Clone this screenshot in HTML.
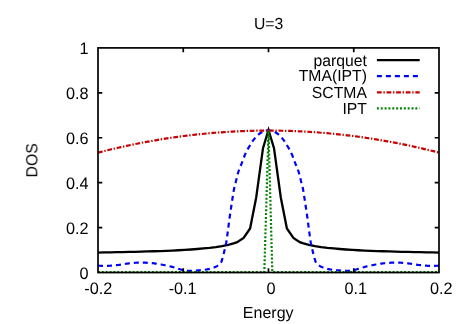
<!DOCTYPE html>
<html lang="en"><head><meta charset="utf-8"><title>U=3</title><style>html,body{margin:0;padding:0;background:#fff}svg{display:block}</style></head><body>
<svg width="463" height="324" viewBox="0 0 463 324">
<rect width="463" height="324" fill="#fff"/>
<g fill="none" stroke-linejoin="miter" stroke-miterlimit="10">
<path d="M98.00,252.54 L104.20,252.44 L110.40,252.33 L116.60,252.21 L122.80,252.09 L129.00,251.95 L135.20,251.80 L141.40,251.64 L147.60,251.46 L153.80,251.26 L160.00,251.04 L166.20,250.80 L172.40,250.53 L178.60,250.23 L184.80,249.88 L191.00,249.48 L197.20,249.02 L203.40,248.47 L209.60,247.83 L215.80,247.03 L222.00,246.05 L228.20,244.79 L234.40,243.10 L237.20,242.14 L243.60,237.90 L250.10,228.50 L256.20,197.50 L263.00,148.20 L268.50,130.00 L274.00,148.20 L280.80,197.50 L286.90,228.50 L293.40,237.90 L299.80,242.14 L302.60,243.10 L308.80,244.79 L315.00,246.05 L321.20,247.03 L327.40,247.83 L333.60,248.47 L339.80,249.02 L346.00,249.48 L352.20,249.88 L358.40,250.23 L364.60,250.53 L370.80,250.80 L377.00,251.04 L383.20,251.26 L389.40,251.46 L395.60,251.64 L401.80,251.80 L408.00,251.95 L414.20,252.09 L420.40,252.21 L426.60,252.33 L432.80,252.44 L439.00,252.54" stroke="#000" stroke-width="2.3"/>
<path d="M98.00,265.70 L99.83,265.74 L102.46,265.79 L105.36,265.83 L108.00,265.80 L110.32,265.69 L112.59,265.53 L114.71,265.34 L116.60,265.15 L118.17,264.97 L119.50,264.79 L120.72,264.60 L122.00,264.40 L123.32,264.19 L124.63,263.97 L125.97,263.75 L127.40,263.55 L128.96,263.35 L130.62,263.16 L132.31,262.99 L134.00,262.85 L135.67,262.75 L137.34,262.67 L139.02,262.62 L140.70,262.60 L142.40,262.61 L144.10,262.65 L145.80,262.71 L147.50,262.80 L149.21,262.91 L150.92,263.06 L152.60,263.22 L154.20,263.40 L155.69,263.60 L157.09,263.83 L158.45,264.06 L159.80,264.30 L161.10,264.52 L162.36,264.74 L163.64,264.98 L165.00,265.25 L166.50,265.56 L168.09,265.91 L169.69,266.28 L171.20,266.65 L172.60,267.03 L173.93,267.42 L175.22,267.82 L176.50,268.20 L177.73,268.57 L178.92,268.93 L180.12,269.27 L181.40,269.60 L182.81,269.92 L184.29,270.23 L185.79,270.50 L187.20,270.70 L188.49,270.83 L189.70,270.90 L190.91,270.92 L192.20,270.90 L193.52,270.85 L194.84,270.75 L196.30,270.62 L198.00,270.45 L200.05,270.27 L202.37,270.06 L204.78,269.79 L207.10,269.40 L209.39,268.89 L211.72,268.27 L213.91,267.57 L215.80,266.80 L217.35,265.94 L218.64,264.99 L219.71,264.00 L220.60,263.00 L221.23,262.09 L221.62,261.22 L221.92,260.21 L222.30,258.90 L222.80,257.17 L223.34,255.13 L223.88,252.95 L224.40,250.80 L224.89,248.77 L225.38,246.76 L225.84,244.61 L226.30,242.20 L226.73,239.47 L227.14,236.50 L227.56,233.33 L228.00,230.00 L228.44,226.68 L228.87,223.29 L229.37,219.50 L230.00,215.00 L230.86,209.12 L231.89,202.23 L232.92,195.53 L233.80,190.20 L234.46,186.82 L234.99,184.67 L235.48,183.01 L236.00,181.10 L236.54,178.81 L237.08,176.51 L237.65,174.23 L238.30,172.00 L239.04,169.89 L239.86,167.85 L240.72,165.79 L241.60,163.60 L242.52,161.16 L243.48,158.54 L244.45,155.99 L245.40,153.70 L246.28,151.82 L247.13,150.21 L248.01,148.66 L249.00,147.00 L250.11,145.12 L251.31,143.15 L252.57,141.20 L253.90,139.40 L255.32,137.73 L256.82,136.14 L258.34,134.70 L259.80,133.50 L261.23,132.57 L262.66,131.86 L264.01,131.32 L265.20,130.90 L266.17,130.63 L266.98,130.51 L267.72,130.49 L268.50,130.50 L269.28,130.49 L270.02,130.51 L270.83,130.63 L271.80,130.90 L272.99,131.32 L274.34,131.86 L275.77,132.57 L277.20,133.50 L278.66,134.70 L280.18,136.14 L281.68,137.73 L283.10,139.40 L284.43,141.20 L285.69,143.15 L286.89,145.12 L288.00,147.00 L288.99,148.66 L289.87,150.21 L290.72,151.82 L291.60,153.70 L292.55,155.99 L293.52,158.54 L294.48,161.16 L295.40,163.60 L296.28,165.79 L297.14,167.85 L297.96,169.89 L298.70,172.00 L299.35,174.23 L299.92,176.51 L300.46,178.81 L301.00,181.10 L301.52,183.01 L302.01,184.67 L302.54,186.82 L303.20,190.20 L304.08,195.53 L305.11,202.23 L306.14,209.12 L307.00,215.00 L307.63,219.50 L308.13,223.29 L308.56,226.68 L309.00,230.00 L309.44,233.33 L309.86,236.50 L310.27,239.47 L310.70,242.20 L311.16,244.61 L311.63,246.76 L312.11,248.77 L312.60,250.80 L313.12,252.95 L313.66,255.13 L314.20,257.17 L314.70,258.90 L315.08,260.21 L315.38,261.22 L315.77,262.09 L316.40,263.00 L317.29,264.00 L318.36,264.99 L319.65,265.94 L321.20,266.80 L323.09,267.57 L325.28,268.27 L327.61,268.89 L329.90,269.40 L332.22,269.79 L334.63,270.06 L336.95,270.27 L339.00,270.45 L340.70,270.62 L342.16,270.75 L343.48,270.85 L344.80,270.90 L346.09,270.92 L347.30,270.90 L348.51,270.83 L349.80,270.70 L351.21,270.50 L352.71,270.22 L354.19,269.92 L355.60,269.60 L356.88,269.27 L358.08,268.93 L359.27,268.57 L360.50,268.20 L361.78,267.82 L363.07,267.43 L364.40,267.03 L365.80,266.65 L367.31,266.28 L368.91,265.91 L370.50,265.56 L372.00,265.25 L373.36,264.98 L374.64,264.74 L375.90,264.52 L377.20,264.30 L378.55,264.06 L379.91,263.83 L381.31,263.60 L382.80,263.40 L384.40,263.22 L386.07,263.06 L387.79,262.91 L389.50,262.80 L391.20,262.71 L392.90,262.65 L394.60,262.61 L396.30,262.60 L397.98,262.62 L399.66,262.67 L401.33,262.75 L403.00,262.85 L404.69,262.99 L406.38,263.16 L408.04,263.35 L409.60,263.55 L411.03,263.75 L412.38,263.97 L413.68,264.19 L415.00,264.40 L416.27,264.60 L417.50,264.79 L418.82,264.97 L420.40,265.15 L422.29,265.34 L424.41,265.53 L426.68,265.69 L429.00,265.80 L431.64,265.83 L434.54,265.79 L437.17,265.74 L439.00,265.70" stroke="#0000ff" stroke-width="2.2" stroke-dasharray="5 4"/>
<path d="M98.00,152.63 L100.87,151.89 L103.73,151.17 L106.60,150.46 L109.46,149.76 L112.33,149.08 L115.19,148.41 L118.06,147.75 L120.92,147.10 L123.79,146.47 L126.66,145.84 L129.52,145.24 L132.39,144.64 L135.25,144.05 L138.12,143.48 L140.98,142.92 L143.85,142.37 L146.71,141.84 L149.58,141.32 L152.45,140.81 L155.31,140.31 L158.18,139.82 L161.04,139.35 L163.91,138.89 L166.77,138.44 L169.64,138.01 L172.50,137.58 L175.37,137.17 L178.24,136.77 L181.10,136.39 L183.97,136.01 L186.83,135.65 L189.70,135.31 L192.56,134.97 L195.43,134.65 L198.29,134.33 L201.16,134.04 L204.03,133.75 L206.89,133.48 L209.76,133.21 L212.62,132.97 L215.49,132.73 L218.35,132.51 L221.22,132.29 L224.08,132.09 L226.95,131.91 L229.82,131.73 L232.68,131.57 L235.55,131.42 L238.41,131.29 L241.28,131.16 L244.14,131.05 L247.01,130.95 L249.87,130.86 L252.74,130.79 L255.61,130.73 L258.47,130.68 L261.34,130.64 L264.20,130.61 L267.07,130.60 L269.93,130.60 L272.80,130.61 L275.66,130.64 L278.53,130.68 L281.39,130.73 L284.26,130.79 L287.13,130.86 L289.99,130.95 L292.86,131.05 L295.72,131.16 L298.59,131.29 L301.45,131.42 L304.32,131.57 L307.18,131.73 L310.05,131.91 L312.92,132.09 L315.78,132.29 L318.65,132.51 L321.51,132.73 L324.38,132.97 L327.24,133.21 L330.11,133.48 L332.97,133.75 L335.84,134.04 L338.71,134.33 L341.57,134.65 L344.44,134.97 L347.30,135.31 L350.17,135.65 L353.03,136.01 L355.90,136.39 L358.76,136.77 L361.63,137.17 L364.50,137.58 L367.36,138.01 L370.23,138.44 L373.09,138.89 L375.96,139.35 L378.82,139.82 L381.69,140.31 L384.55,140.81 L387.42,141.32 L390.29,141.84 L393.15,142.37 L396.02,142.92 L398.88,143.48 L401.75,144.05 L404.61,144.64 L407.48,145.24 L410.34,145.84 L413.21,146.47 L416.08,147.10 L418.94,147.75 L421.81,148.41 L424.67,149.08 L427.54,149.76 L430.40,150.46 L433.27,151.17 L436.13,151.89 L439.00,152.63" stroke="#c80000" stroke-width="2.2" stroke-dasharray="4.8 1.7 1.4 1.7"/>
<path d="M98.00,272.05 L264.30,272.05 L268.50,130.50 L272.30,272.05 L439.00,272.05" stroke="#008000" stroke-width="2.2" stroke-dasharray="1.95 1.9"/>
<path d="M376.9,60.1 H419.7" stroke="#000" stroke-width="2.3"/>
<path d="M376.9,76.2 H419.7" stroke="#0000ff" stroke-width="2.2" stroke-dasharray="5 4"/>
<path d="M376.9,92.3 H419.7" stroke="#c80000" stroke-width="2.2" stroke-dasharray="4.8 1.7 1.4 1.7"/>
<path d="M376.9,108.4 H419.7" stroke="#008000" stroke-width="2.2" stroke-dasharray="1.95 1.9"/>
</g>
<g fill="none" stroke="#000" stroke-width="1.7">
<rect x="98.0" y="47.9" width="341.0" height="224.6"/>
<path d="M98.0,227.58h4.3M439.0,227.58h-4.3M98.0,182.66h4.3M439.0,182.66h-4.3M98.0,137.74h4.3M439.0,137.74h-4.3M98.0,92.82h4.3M439.0,92.82h-4.3M183.25,272.5v-4.3M183.25,47.9v4.3M268.50,272.5v-4.3M268.50,47.9v4.3M353.75,272.5v-4.3M353.75,47.9v4.3"/>
</g>
<g font-size="16.07px" fill="#000" opacity="0.995" style="font-family:'Liberation Sans',sans-serif;text-rendering:geometricPrecision">
<text transform="translate(268.65,29.20) scale(0.98,1)" text-anchor="middle">U=3</text>
<text transform="translate(88.60,278.60) scale(0.98,1)" text-anchor="end" font-size="16.6px">0</text>
<text transform="translate(88.60,233.68) scale(0.98,1)" text-anchor="end" font-size="16.6px">0.2</text>
<text transform="translate(88.60,188.76) scale(0.98,1)" text-anchor="end" font-size="16.6px">0.4</text>
<text transform="translate(88.60,143.84) scale(0.98,1)" text-anchor="end" font-size="16.6px">0.6</text>
<text transform="translate(88.60,98.92) scale(0.98,1)" text-anchor="end" font-size="16.6px">0.8</text>
<text transform="translate(88.60,54.00) scale(0.98,1)" text-anchor="end" font-size="16.6px">1</text>
<text transform="translate(98.30,293.85) scale(0.98,1)" text-anchor="middle" font-size="16.6px">-0.2</text>
<text transform="translate(182.65,293.85) scale(0.98,1)" text-anchor="middle" font-size="16.6px">-0.1</text>
<text transform="translate(271.10,293.85) scale(0.98,1)" text-anchor="middle" font-size="16.6px">0</text>
<text transform="translate(355.75,293.85) scale(0.98,1)" text-anchor="middle" font-size="16.6px">0.1</text>
<text transform="translate(441.30,293.85) scale(0.98,1)" text-anchor="middle" font-size="16.6px">0.2</text>
<text transform="translate(268.20,318.00) scale(0.995,1)" text-anchor="middle">Energy</text>
<text transform="translate(37.30,160.30) rotate(-90) scale(0.98,1)" text-anchor="middle">DOS</text>
<text transform="translate(366.90,65.60) scale(0.98,1)" text-anchor="end">parquet</text>
<text transform="translate(366.90,81.25) scale(0.98,1)" text-anchor="end">TMA(IPT)</text>
<text transform="translate(366.90,97.55) scale(0.98,1)" text-anchor="end">SCTMA</text>
<text transform="translate(366.90,113.75) scale(0.98,1)" text-anchor="end">IPT</text>
</g>
</svg>
</body></html>
